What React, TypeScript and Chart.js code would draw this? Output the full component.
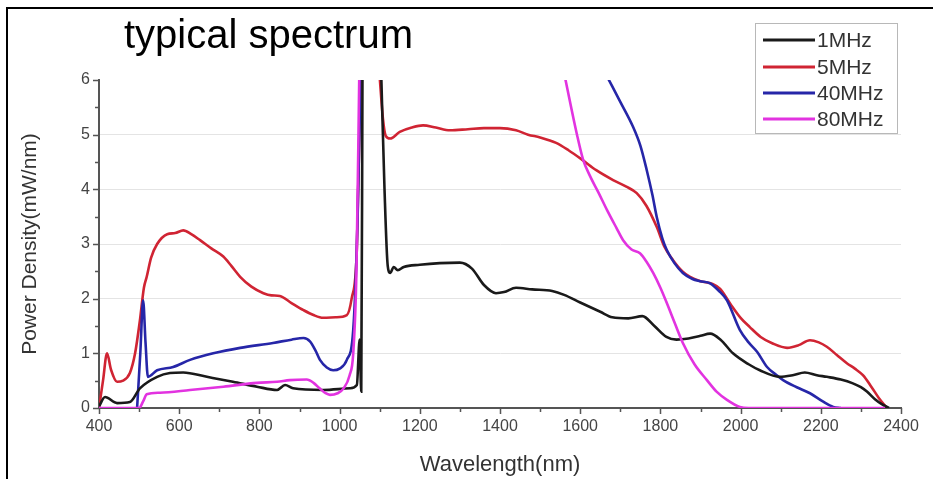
import React, { useEffect, useRef } from 'react';
import { Chart, registerables } from 'chart.js';

Chart.register(...registerables);

const FONT = '"Liberation Sans", Arial, sans-serif';

const chartTitle = 'typical spectrum';
const xTitle = 'Wavelength(nm)';
const yTitle = 'Power Density(mW/nm)';

const seriesLabels = ['1MHz', '5MHz', '40MHz', '80MHz'];
const seriesColors = ['#1a1a1a', '#d02433', '#2626a8', '#e233e0'];

// 1MHz
const wl1 = [400, 415, 445, 477, 502, 545, 577, 610, 669, 734, 794, 844, 864, 884, 959, 1026, 1043, 1050, 1054, 1057,
  1080,
  1104, 1112, 1120, 1126, 1135, 1145, 1160, 1200, 1250, 1300, 1330, 1360, 1390, 1410, 1440, 1480, 1530, 1560, 1600,
  1650, 1680, 1720, 1755, 1785, 1815, 1840, 1870, 1900, 1924, 1950, 1981, 2020, 2048, 2098, 2130, 2160, 2190, 2215,
  2250, 2280, 2300, 2315, 2335, 2352, 2370];
const pd1 = [0.03, 0.2, 0.09, 0.11, 0.36, 0.57, 0.64, 0.65, 0.57, 0.48, 0.39, 0.33, 0.42, 0.36, 0.33, 0.36, 0.42, 1.25, 0.3, 6.05,
  null,
  6.05, 4.0, 2.6, 2.47, 2.58, 2.52, 2.58, 2.62, 2.65, 2.66, 2.55, 2.25, 2.1, 2.12, 2.2, 2.17, 2.14, 2.07, 1.93,
  1.76, 1.66, 1.64, 1.68, 1.5, 1.3, 1.25, 1.27, 1.32, 1.36, 1.25, 1.0, 0.8, 0.69, 0.57, 0.6, 0.65, 0.6, 0.57,
  0.52, 0.45, 0.38, 0.3, 0.16, 0.07, 0];

// 5MHz
const wl5 = [400, 410, 420, 430, 445, 460, 477, 490, 502, 512, 519, 530, 545, 570, 590, 610, 630, 652, 680, 710, 730,
  752, 780, 810, 830, 851, 880, 910, 935, 959, 990, 1018, 1030, 1043, 1052,
  1080,
  1100, 1108, 1115, 1126, 1150, 1180, 1208, 1240, 1275, 1320, 1360, 1400, 1440, 1470, 1500, 1540, 1570, 1607, 1640,
  1682, 1715, 1741, 1765, 1791, 1810, 1832, 1855, 1874, 1900, 1930, 1949, 1975, 2000, 2023, 2050, 2080, 2116, 2145,
  2173, 2195, 2215, 2240, 2265, 2285, 2305, 2325, 2348, 2365];
const pd5 = [0, 0.5, 1.0, 0.7, 0.48, 0.5, 0.64, 1.0, 1.6, 2.2, 2.4, 2.75, 3.0, 3.18, 3.2, 3.25, 3.18, 3.07, 2.92, 2.77, 2.6,
  2.4, 2.22, 2.1, 2.06, 2.05, 1.92, 1.79, 1.7, 1.65, 1.66, 1.7, 2.0, 2.9, 6.05,
  null,
  6.05, 5.3, 4.98, 4.93, 5.05, 5.13, 5.17, 5.13, 5.08, 5.1, 5.12, 5.12, 5.08, 5.0, 4.95, 4.85, 4.72, 4.53, 4.35,
  4.17, 4.05, 3.93, 3.7, 3.31, 2.95, 2.7, 2.5, 2.4, 2.32, 2.27, 2.18, 1.9, 1.65, 1.48, 1.3, 1.18, 1.1, 1.15,
  1.24, 1.2, 1.12, 0.97, 0.82, 0.72, 0.6, 0.4, 0.15, 0];

// 40MHz
const wl40 = [495, 503, 510, 516, 522, 545, 585, 627, 685, 752, 834, 880, 910, 926, 940, 951, 968, 984, 1000, 1018,
  1034, 1045, 1052,
  1080,
  1668, 1700, 1732, 1750, 1766, 1780, 1791, 1805, 1816, 1835, 1856, 1880, 1899, 1924, 1945, 1966, 1998, 2020, 2041,
  2066, 2090, 2106, 2140, 2173, 2205, 2231, 2250];
const pd40 = [0, 1.0, 1.97, 1.2, 0.57, 0.69, 0.75, 0.88, 1.0, 1.1, 1.19, 1.25, 1.28, 1.22, 1.05, 0.88, 0.74, 0.69, 0.72, 0.88,
  1.43, 3.5, 6.05,
  null,
  6.05, 5.6, 5.14, 4.8, 4.35, 3.9, 3.49, 3.1, 2.89, 2.65, 2.47, 2.36, 2.32, 2.28, 2.15, 1.97, 1.43, 1.2, 1.03,
  0.75, 0.6, 0.51, 0.38, 0.27, 0.12, 0.02, 0];

// 80MHz
const wl80 = [400, 500, 510, 519, 552, 627, 710, 794, 844, 876, 918, 935, 950, 965, 976, 995, 1009, 1025, 1034, 1042, 1049,
  1080,
  1562, 1592, 1607, 1624, 1645, 1667, 1690, 1707, 1728, 1749, 1765, 1782, 1800, 1816, 1836, 1856, 1885, 1916, 1940,
  1966, 1998, 2020, 2360];
const pd80 = [0, 0, 0.12, 0.25, 0.28, 0.33, 0.39, 0.46, 0.48, 0.51, 0.52, 0.46, 0.36, 0.27, 0.24, 0.27, 0.35, 0.6, 1.0, 2.5, 6.05,
  null,
  6.05, 5.0, 4.55, 4.25, 3.95, 3.62, 3.3, 3.07, 2.9, 2.83, 2.68, 2.47, 2.2, 1.92, 1.55, 1.19, 0.8, 0.51, 0.3,
  0.15, 0.02, 0, 0];

const seriesWl = [wl1, wl5, wl40, wl80];
const seriesPd = [pd1, pd5, pd40, pd80];
const drawOrder = [1, 3, 2, 0];

const xMinorStep = 100;
const xMajorStep = 200;
const yMinorStep = 0.5;

const decorPlugin = {
  id: 'decor',
  beforeDraw(chart: any) {
    const ctx = chart.ctx;
    ctx.save();
    ctx.fillStyle = '#ffffff';
    ctx.fillRect(0, 0, chart.width, chart.height);
    ctx.fillStyle = '#000000';
    ctx.fillRect(6, 7, chart.width - 6, 2);
    ctx.fillRect(6, 7, 2, chart.height - 7);
    ctx.restore();
  },
  afterDraw(chart: any) {
    const ctx = chart.ctx;
    const xs = chart.scales.x;
    const ys = chart.scales.y;
    ctx.save();
    // tick marks (major longer than minor)
    ctx.strokeStyle = '#555555';
    ctx.lineWidth = 1.5;
    ctx.beginPath();
    for (let v = xs.min; v <= xs.max + 1e-6; v += xMinorStep) {
      const px = Math.round(xs.getPixelForValue(v)) + 0.5;
      const len = v % xMajorStep === 0 ? 6 : 4;
      ctx.moveTo(px, xs.top);
      ctx.lineTo(px, xs.top + len);
    }
    for (let v = ys.min; v <= ys.max + 1e-6; v += yMinorStep) {
      const py = Math.round(ys.getPixelForValue(v)) + 0.5;
      const len = Number.isInteger(v) ? 6 : 4;
      ctx.moveTo(ys.right, py);
      ctx.lineTo(ys.right - len, py);
    }
    ctx.stroke();
    // title
    ctx.fillStyle = '#000000';
    ctx.font = `40px ${FONT}`;
    ctx.textAlign = 'left';
    ctx.textBaseline = 'alphabetic';
    ctx.fillText(chartTitle, 124, 48);
    // legend
    const bx = 755.5, by = 23.5, bw = 142, bh = 110;
    ctx.fillStyle = '#ffffff';
    ctx.fillRect(bx, by, bw, bh);
    ctx.strokeStyle = '#b8b8b8';
    ctx.lineWidth = 1;
    ctx.strokeRect(bx, by, bw, bh);
    ctx.font = `21px ${FONT}`;
    ctx.textBaseline = 'middle';
    const rows = [40, 67, 93, 119];
    chart.data.datasets.forEach((ds: any, i: number) => {
      const y = rows[i];
      ctx.strokeStyle = ds.borderColor;
      ctx.lineWidth = 3;
      ctx.beginPath();
      ctx.moveTo(763, y);
      ctx.lineTo(815, y);
      ctx.stroke();
      ctx.fillStyle = '#333333';
      ctx.fillText(ds.label, 817, y + 1);
    });
    ctx.restore();
  },
};

export default function App() {
  const ref = useRef<HTMLCanvasElement | null>(null);

  useEffect(() => {
    if (!ref.current) return;
    const datasets = seriesLabels.map((label, s) => ({
      label,
      data: seriesWl[s].map((x, i) => ({ x, y: seriesPd[s][i] })),
      borderColor: seriesColors[s],
      backgroundColor: seriesColors[s],
      borderWidth: 2.6,
      pointRadius: 0,
      fill: false,
      spanGaps: false,
      cubicInterpolationMode: 'monotone' as const,
      order: drawOrder[s],
    }));

    const chart = new Chart(ref.current, {
      type: 'line',
      data: { datasets },
      options: {
        animation: false,
        responsive: true,
        maintainAspectRatio: false,
        layout: { padding: { top: 80, right: 32, left: 0, bottom: 0 } },
        plugins: {
          legend: { display: false },
          title: { display: false },
          tooltip: { enabled: false },
        },
        scales: {
          x: {
            type: 'linear',
            min: 400,
            max: 2400,
            afterFit: (scale: any) => { scale.height = 71; },
            ticks: {
              stepSize: xMajorStep,
              autoSkip: false,
              maxRotation: 0,
              padding: 9,
              color: '#444444',
              font: { family: FONT, size: 16 },
              callback: (v: any) => String(v),
            },
            grid: {
              drawOnChartArea: false,
              drawTicks: false,
            },
            border: { display: true, color: '#555555', width: 2 },
            title: {
              display: true,
              text: xTitle,
              color: '#333333',
              font: { family: FONT, size: 22 },
              padding: { top: 0, bottom: 1 },
            },
          },
          y: {
            type: 'linear',
            min: 0,
            max: 6,
            afterFit: (scale: any) => { scale.width = 99; },
            ticks: {
              stepSize: 1,
              autoSkip: false,
              padding: 9,
              color: '#444444',
              font: { family: FONT, size: 16 },
              callback: (v: any) => String(v),
            },
            grid: {
              drawOnChartArea: true,
              drawTicks: false,
              lineWidth: 1,
              color: (c: any) => {
                const v = c.tick ? c.tick.value : NaN;
                return Number.isInteger(v) && v > 0 && v < 6 ? '#e4e4e4' : 'rgba(0,0,0,0)';
              },
            },
            border: { display: true, color: '#555555', width: 2 },
            title: {
              display: true,
              text: yTitle,
              color: '#333333',
              font: { family: FONT, size: 21 },
              padding: { top: 18, bottom: 0 },
            },
          },
        },
      },
      plugins: [decorPlugin],
    });
    return () => chart.destroy();
  }, []);

  return (
    <div style={{ position: 'absolute', left: 0, top: 0, width: 933, height: 479 }}>
      <canvas ref={ref} />
    </div>
  );
}
